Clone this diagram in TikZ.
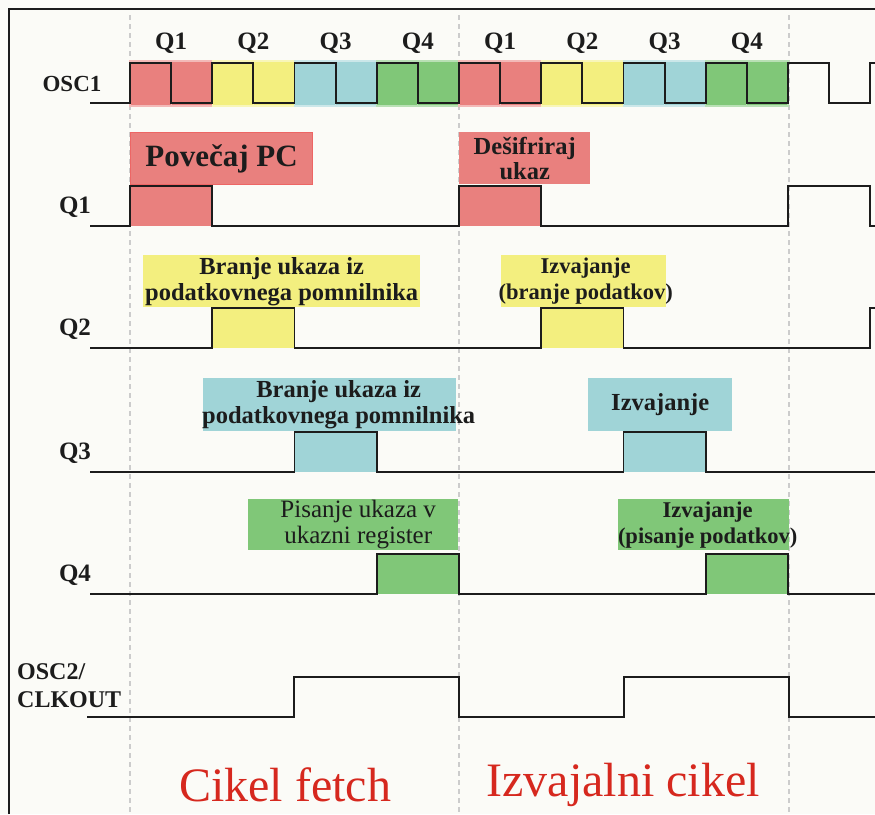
\documentclass[tikz,border=0pt]{standalone}
\usepackage{fontspec}
\setmainfont{Liberation Serif}
\usepackage{tikz}
\usepackage{xcolor}
\usetikzlibrary{calc,positioning}

\definecolor{paper}{RGB}{251,251,247}
\definecolor{qred}{RGB}{233,128,126}
\definecolor{qyel}{RGB}{243,239,127}
\definecolor{qcyan}{RGB}{160,212,215}
\definecolor{qgreen}{RGB}{128,199,120}
\definecolor{cyclered}{RGB}{214,40,30}
\definecolor{ink}{RGB}{28,28,28}

\begin{document}
\begin{tikzpicture}[x=1pt,y=-1pt,
  sig/.style={line width=1.8pt,ink},
  tagbox/.style={rectangle,inner sep=0pt,anchor=north west},
  tagtext/.style={align=center,inner sep=0pt,text=ink,font=\bfseries\fontsize{24.5}{26}\selectfont},
  rowlabel/.style={inner sep=0pt,text=ink,font=\bfseries\fontsize{25}{25}\selectfont},
  cyclename/.style={inner sep=0pt,text=cyclered,font=\fontsize{48}{48}\selectfont}]
\fill[paper] (0,0) rectangle (875,814);
\useasboundingbox (0,0) rectangle (875,814);
\clip (0,0) rectangle (875,814);
\draw[line width=1.3pt,ink] (9,814) -- (9,9) -- (875,9);

% cycle borders
\foreach \x in {130,459,789}
  \draw[black!20,line width=1.6pt,dash pattern=on 5pt off 4pt] (\x,15) -- (\x,814);

% OSC1 with coloured quarters
\foreach \c [count=\i from 0] in {qred,qyel,qcyan,qgreen,qred,qyel,qcyan,qgreen} {
  \pgfmathsetmacro{\xa}{130+82.25*\i}
  \filldraw[fill=\c,draw=\c!55!white,line width=1.2pt] (\xa,61) rectangle ++(41.1,45);
  \filldraw[fill=\c,draw=\c!55!white,line width=1.2pt] (\xa+41.1,61) rectangle ++(41.1,45);
  \pgfmathtruncatemacro{\q}{mod(\i,4)+1}
  \node[rowlabel] (top\i) at (\xa+41.1,43) {Q\q};
}
\draw[sig] (90,103) -- (130,103)
  foreach \k in {1,...,10} { -- ++(0,-40) -- ++(41.125,0) -- ++(0,40) -- ++(41.125,0) };
\node[rowlabel,font=\bfseries\fontsize{23}{23}\selectfont] (osc1) at (72,84) {OSC1};

% Q1..Q4
\foreach \yl/\off/\c [count=\r] in {226/0/qred,348/1/qyel,472/2/qcyan,594/3/qgreen} {
  \pgfmathsetmacro{\a}{130+82.25*\off}
  \fill[\c] (\a,\yl-40) rectangle ++(82.25,40);
  \fill[\c] (\a+329,\yl-40) rectangle ++(82.25,40);
  \draw[sig] (90,\yl)
    foreach \k in {0,1,2} { -- ({\a+329*\k},\yl) -- ++(0,-40) -- ++(82.25,0) -- ++(0,40) } -- (875,\yl);
  \node[rowlabel] (lq\r) at (75,\yl-19) {Q\r};
}

% what happens in each quarter
\node[tagbox,fill=qred,draw=qred!80!red,line width=1pt,minimum width=182,minimum height=52] (povecaj) at (130,132) {};
\node[tagtext,font=\bfseries\fontsize{31}{31}\selectfont] at (povecaj) {Povečaj PC};
\node[tagbox,fill=qred,minimum width=131,minimum height=52] (desifriraj) at (459,132) {};
\node[tagtext,font=\bfseries\fontsize{24.5}{25}\selectfont] at (desifriraj) {Dešifriraj\\ukaz};

\node[tagbox,fill=qyel,minimum width=277,minimum height=52] (branjeA) at (143,255) {};
\node[tagtext] at (branjeA) {Branje ukaza iz\\podatkovnega pomnilnika};
\node[tagbox,fill=qyel,minimum width=165,minimum height=52] (izvajanjeA) at (501,255) {};
\node[tagtext,font=\bfseries\fontsize{22.5}{26}\selectfont] at ($(izvajanjeA)+(2,0)$) {Izvajanje\\(branje podatkov)};

\node[tagbox,fill=qcyan,minimum width=253,minimum height=53] (branjeB) at (203,378) {};
\node[tagtext] at ($(branjeB)+(9,0)$) {Branje ukaza iz\\podatkovnega pomnilnika};
\node[tagbox,fill=qcyan,minimum width=144,minimum height=53] (izvajanjeB) at (588,378) {};
\node[tagtext,font=\bfseries\fontsize{24.5}{24}\selectfont] at (izvajanjeB) {Izvajanje};

\node[tagbox,fill=qgreen,minimum width=210,minimum height=51] (pisanje) at (248,499) {};
\node[tagtext,font=\fontsize{25}{26}\selectfont] at ($(pisanje)+(5,0)$) {Pisanje ukaza v\\ukazni register};
\node[tagbox,fill=qgreen,minimum width=171,minimum height=51] (izvajanjeC) at (618,499) {};
\node[tagtext,font=\bfseries\fontsize{22.5}{26}\selectfont] at ($(izvajanjeC)+(4,0)$) {Izvajanje\\(pisanje podatkov)};

% OSC2/CLKOUT
\draw[sig] (87,717) -- (294,717) -- (294,677) -- (459,677) -- (459,717)
  -- (624,717) -- (624,677) -- (789,677) -- (789,717) -- (875,717);
\node[rowlabel,anchor=west,align=left,font=\bfseries\fontsize{24}{28}\selectfont] (osc2) at (17,686) {OSC2/\\CLKOUT};

\node[cyclename] (fetch) at (285,785) {Cikel fetch};
\node[cyclename] (izvajalni) at (623,785) {Izvajalni cikel};
\end{tikzpicture}
\end{document}
